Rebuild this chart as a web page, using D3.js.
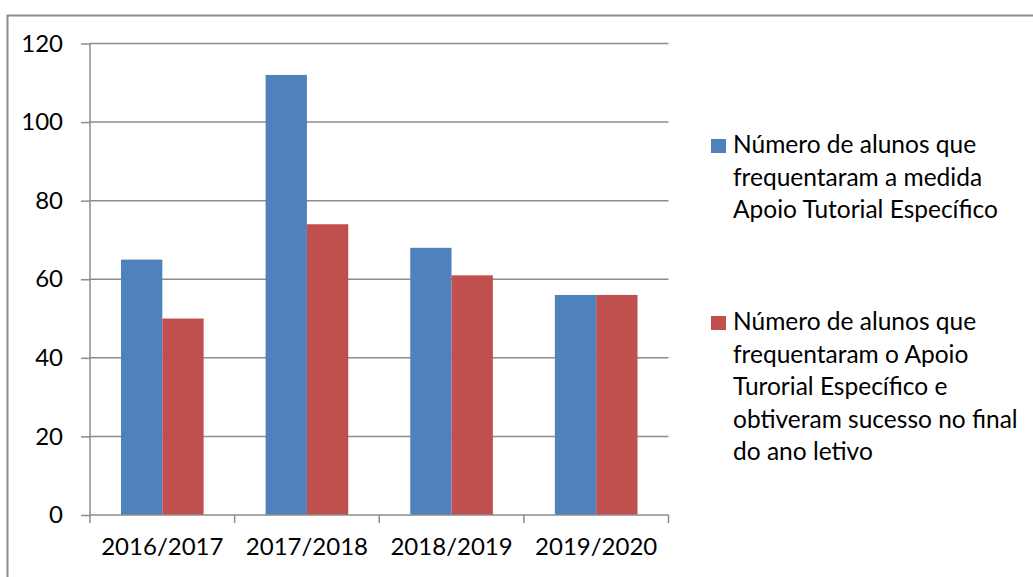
<!DOCTYPE html>
<html>
<head>
<meta charset="utf-8">
<script src="https://cdn.jsdelivr.net/npm/d3@7"></script>
<style>
  body { margin: 0; background: #fff; }
  svg { display: block; font-family: Lato, "Open Sans", sans-serif; }
</style>
</head>
<body>
<script>
// chart data
const anos = ["2016/2017", "2017/2018", "2018/2019", "2019/2020"];
const frequentaram = [65, 112, 68, 56];
const sucesso = [50, 74, 61, 56];
const yTicks = [0, 20, 40, 60, 80, 100, 120];
const legenda = [
    ["Número de alunos que", "frequentaram a medida", "Apoio Tutorial Específico"],
    ["Número de alunos que", "frequentaram o Apoio", "Turorial Específico e", "obtiveram sucesso no final", "do ano letivo"]
];
const cores = ["#4f81bd", "#c0504d"];

const width = 1033, height = 577;
const margin = { top: 43.5, left: 90, right: 668.5, bottom: 515 };

const svg = d3.select("body").append("svg")
    .attr("width", width)
    .attr("height", height);

// outer frame (runs off the right and bottom edges)
svg.append("rect")
    .attr("x", 7.5).attr("y", 15.5)
    .attr("width", 1040).attr("height", 600)
    .attr("fill", "none")
    .attr("stroke", "#8c8c8c")
    .attr("stroke-width", 2);

const x0 = d3.scaleBand()
    .domain(anos)
    .range([margin.left, margin.right])
    .paddingInner(0)
    .paddingOuter(0);

const x1 = d3.scaleBand()
    .domain([0, 1])
    .range([0, x0.bandwidth()])
    .paddingOuter(0.75)
    .paddingInner(0);

const y = d3.scaleLinear()
    .domain([0, 120])
    .range([margin.bottom, margin.top]);

// grid lines
svg.append("g")
    .selectAll("line")
    .data(yTicks.filter(d => d > 0))
    .join("line")
    .attr("x1", margin.left).attr("x2", margin.right)
    .attr("y1", d => y(d)).attr("y2", d => y(d))
    .attr("stroke", "#8c8c8c")
    .attr("stroke-width", 1.5);

// bars
const series = [frequentaram, sucesso];
series.forEach((vals, s) => {
    svg.append("g")
        .selectAll("rect")
        .data(vals)
        .join("rect")
        .attr("x", (d, i) => x0(anos[i]) + x1(s))
        .attr("y", d => y(d))
        .attr("width", x1.bandwidth())
        .attr("height", d => y(0) - y(d))
        .attr("fill", cores[s]);
});

// y axis
const yAxis = svg.append("g")
    .attr("transform", `translate(${margin.left},0)`)
    .call(d3.axisLeft(y).tickValues(yTicks).tickSize(9).tickPadding(18));
yAxis.selectAll("line, path").attr("stroke", "#8c8c8c").attr("stroke-width", 1.5);
yAxis.select(".domain").attr("d", `M0,${margin.top}V${margin.bottom}`);
yAxis.selectAll("text")
    .attr("fill", "#000")
    .style("font-size", "24px")
    .style("font-family", "Lato, sans-serif");

// x axis
const xAxis = svg.append("g")
    .attr("transform", `translate(0,${margin.bottom})`)
    .call(d3.axisBottom(x0).tickSize(0).tickPadding(23));
xAxis.select(".domain").attr("stroke", "#8c8c8c").attr("stroke-width", 1.5)
    .attr("d", `M${margin.left},0H${margin.right}`);
xAxis.selectAll("text")
    .attr("fill", "#000")
    .style("font-size", "24px")
    .style("font-family", "Lato, sans-serif");
// boundary ticks between categories
xAxis.append("g")
    .selectAll("line")
    .data(anos.concat(["end"]))
    .join("line")
    .attr("x1", (d, i) => i < anos.length ? x0(d) : margin.right)
    .attr("x2", (d, i) => i < anos.length ? x0(d) : margin.right)
    .attr("y1", 0).attr("y2", 8)
    .attr("stroke", "#8c8c8c")
    .attr("stroke-width", 1.5);

// legend
const legendTops = [139, 316];
legenda.forEach((lines, s) => {
    const g = svg.append("g").attr("transform", `translate(711,${legendTops[s]})`);
    g.append("rect")
        .attr("width", 15).attr("height", 14)
        .attr("fill", cores[s]);
    g.append("text")
        .attr("x", 22)
        .attr("y", 14)
        .style("font-size", "24.5px")
        .attr("fill", "#000")
        .selectAll("tspan")
        .data(lines)
        .join("tspan")
        .attr("x", 22)
        .attr("dy", (d, i) => i === 0 ? 0 : 32.5)
        .text(d => d);
});
</script>
</body>
</html>
